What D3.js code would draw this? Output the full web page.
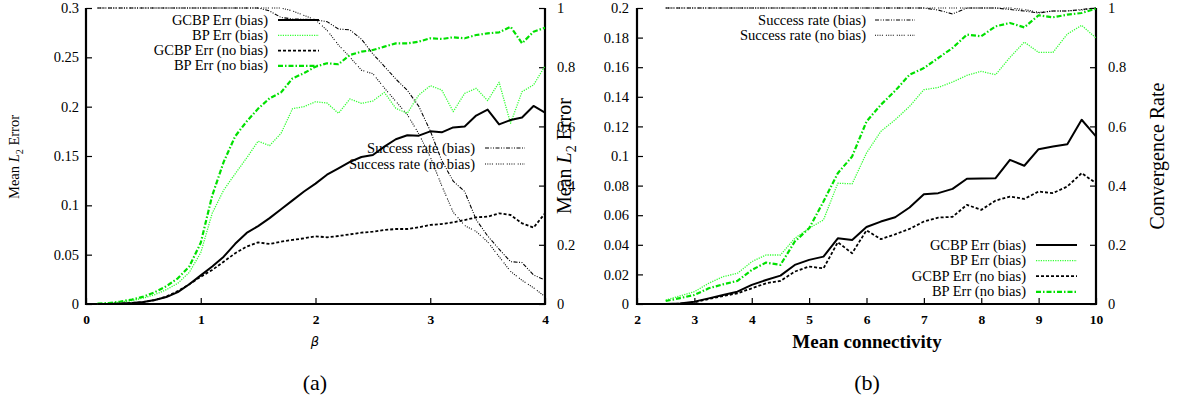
<!DOCTYPE html>
<html><head><meta charset="utf-8">
<script src="https://cdn.jsdelivr.net/npm/d3@7"></script>
<style>body{margin:0;background:#fff}svg{display:block}</style>
</head><body>
<svg id="c" width="1179" height="402"></svg>
<script>
// ---------- Panel (a) data : x = beta ----------
const betaX = [0.1,0.2,0.3,0.4,0.5,0.6,0.7,0.8,0.9,1.0,1.1,1.2,1.3,1.4,1.5,1.6,1.7,1.8,1.9,2.0,2.1,2.2,2.3,2.4,2.5,2.6,2.7,2.8,2.9,3.0,3.1,3.2,3.3,3.4,3.5,3.6,3.7,3.8,3.9,4.0];
const gcbpBiasA = [0,0.0001,0.0004,0.001,0.002,0.004,0.007,0.012,0.02,0.029,0.038,0.048,0.061,0.072,0.079,0.087,0.096,0.105,0.114,0.122,0.131,0.1375,0.144,0.149,0.151,0.1595,0.167,0.171,0.1706,0.175,0.174,0.179,0.18,0.191,0.197,0.182,0.1865,0.189,0.2007,0.194];
const bpBiasA = [0.0002,0.0008,0.002,0.0035,0.006,0.0095,0.0145,0.021,0.032,0.052,0.092,0.1155,0.132,0.148,0.165,0.1605,0.173,0.198,0.2,0.205,0.2037,0.1933,0.2078,0.2034,0.2057,0.2145,0.1983,0.1933,0.2118,0.2213,0.2169,0.195,0.2135,0.2186,0.2061,0.2247,0.1831,0.2152,0.222,0.2412];
const gcbpNoBiasA = [0,0.0001,0.0004,0.001,0.002,0.004,0.0075,0.013,0.02,0.0277,0.0345,0.0429,0.0514,0.0581,0.0625,0.0608,0.0632,0.0649,0.0666,0.0686,0.0676,0.0689,0.0706,0.0723,0.0733,0.075,0.076,0.076,0.0777,0.0801,0.0811,0.0828,0.0851,0.0878,0.0885,0.0919,0.0902,0.0818,0.0774,0.0919];
const bpNoBiasA = [0.0003,0.001,0.0025,0.0045,0.0075,0.012,0.018,0.026,0.038,0.062,0.11,0.144,0.17,0.185,0.198,0.2085,0.2145,0.2287,0.234,0.2405,0.244,0.243,0.2524,0.2557,0.2574,0.2608,0.2642,0.2642,0.2659,0.2693,0.2686,0.2703,0.2693,0.2726,0.2743,0.2753,0.281,0.2642,0.276,0.28];
const successBiasA = [1,1,1,1,1,1,1,1,1,1,1,1,1,1,1,0.99,0.968,0.963,0.962,0.96,0.954,0.929,0.926,0.895,0.845,0.803,0.76,0.722,0.668,0.585,0.485,0.415,0.38,0.285,0.23,0.185,0.143,0.14,0.098,0.081];
const successNoBiasA = [1,1,1,1,1,1,1,1,1,1,1,1,1,1,1,1,1,0.99,0.975,0.96,0.925,0.875,0.834,0.79,0.778,0.73,0.685,0.64,0.575,0.497,0.40,0.31,0.265,0.245,0.21,0.16,0.11,0.08,0.055,0.025];

// ---------- Panel (b) data : x = mean connectivity ----------
const connX = [2.5,2.75,3.0,3.25,3.5,3.75,4.0,4.25,4.5,4.75,5.0,5.25,5.5,5.75,6.0,6.25,6.5,6.75,7.0,7.25,7.5,7.75,8.0,8.25,8.5,8.75,9.0,9.25,9.5,9.75,10.0];
const gcbpBiasB = [0,0.0003,0.0016,0.0038,0.0061,0.0083,0.0129,0.0162,0.0192,0.0264,0.0298,0.032,0.0444,0.0433,0.052,0.0557,0.0586,0.0652,0.0742,0.0749,0.0778,0.0846,0.0848,0.085,0.0974,0.0934,0.1046,0.1064,0.108,0.1245,0.1132];
const bpBiasB = [0.0027,0.0055,0.0083,0.014,0.0185,0.0207,0.0286,0.0331,0.0331,0.0444,0.0512,0.0568,0.0816,0.0812,0.102,0.1166,0.1245,0.1335,0.1448,0.1463,0.15,0.1545,0.1572,0.1549,0.1666,0.177,0.17,0.17,0.1824,0.1883,0.1797];
const gcbpNoBiasB = [0,0.0002,0.0011,0.0034,0.0054,0.0072,0.0106,0.014,0.0156,0.0219,0.0253,0.0241,0.0417,0.0343,0.0498,0.0438,0.0471,0.0507,0.0557,0.0584,0.0589,0.067,0.0636,0.0699,0.0726,0.071,0.076,0.0749,0.0794,0.0884,0.0816];
const bpNoBiasB = [0.002,0.004,0.0061,0.0106,0.0133,0.0156,0.023,0.028,0.0264,0.0422,0.0512,0.0692,0.0884,0.0997,0.1233,0.1346,0.1441,0.1549,0.1594,0.1662,0.173,0.182,0.1809,0.1876,0.1899,0.1869,0.1951,0.1937,0.1955,0.1966,0.1996];
const successBiasB = [1,1,1,1,1,1,1,1,1,1,1,1,1,1,1,1,1,1,1,0.993,0.98,1,1,1,0.995,0.99,0.983,0.99,0.99,0.995,1];
const successNoBiasB = [1,1,1,1,1,1,1,1,1,1,1,1,1,1,1,1,1,1,1,1,1,1,1,1,1,0.995,0.985,0.99,0.99,0.993,1];

// ---------- tick labels ----------
const yTicksA = [0,0.05,0.1,0.15,0.2,0.25,0.3];
const xTicksA = [0,1,2,3,4];
const yTicksB = [0,0.02,0.04,0.06,0.08,0.1,0.12,0.14,0.16,0.18,0.2];
const xTicksB = [2,3,4,5,6,7,8,9,10];
const y2Ticks = [0,0.2,0.4,0.6,0.8,1];

const FONT = "'Liberation Serif','Times New Roman',serif";
const svg = d3.select("#c");
svg.append("rect").attr("width",1179).attr("height",402).attr("fill","#fff");

const STYLES = {
  gcbpBias:   {stroke:"#000", w:2,   dash:null},
  bpBias:     {stroke:"#33ff33", w:1.3, dash:"1.2,1.2"},
  gcbpNoBias: {stroke:"#000", w:1.8, dash:"3,2"},
  bpNoBias:   {stroke:"#00e000", w:2.2, dash:"5,2,1.5,2"},
  succBias:   {stroke:"#000", w:1.1, dash:"4,1.5,1,1.5,1,1.5"},
  succNoBias: {stroke:"#000", w:1.1, dash:"1,1.3,1,1.3,1,1.3,1,3"}
};

function fmt(d){ return String(+d.toFixed(3)); }

function drawPanel(p){
  const g = svg.append("g");
  const x = d3.scaleLinear().domain(p.xDom).range([p.x0,p.x1]);
  const y = d3.scaleLinear().domain(p.yDom).range([304,8]);
  const y2 = d3.scaleLinear().domain([0,1]).range([304,8]);

  // axes
  const ax = g.append("g").attr("transform",`translate(0,304)`)
    .call(d3.axisBottom(x).tickValues(p.xTicks).tickFormat(fmt).tickSizeInner(-6).tickSizeOuter(0).tickPadding(10));
  const ay = g.append("g").attr("transform",`translate(${p.x0},0)`)
    .call(d3.axisLeft(y).tickValues(p.yTicks).tickFormat(fmt).tickSizeInner(-6).tickSizeOuter(0).tickPadding(p.yPad));
  const ay2 = g.append("g").attr("transform",`translate(${p.x1},0)`)
    .call(d3.axisRight(y2).tickValues(y2Ticks).tickFormat(fmt).tickSizeInner(-6).tickSizeOuter(0).tickPadding(12));
  [ax,ay,ay2].forEach(a=>{
    a.select(".domain").remove();
    a.selectAll("line").attr("stroke","#000").attr("stroke-width",1.2);
    a.selectAll("text").attr("font-family",FONT).attr("fill","#000");
  });
  ax.selectAll("text").attr("font-size",13.5).attr("font-weight","bold");
  ay.selectAll("text").attr("font-size",14.5);
  ay2.selectAll("text").attr("font-size",14.5);

  // frame
  g.append("path").attr("d",`M${p.x0},8V304H${p.x1}V8`).attr("fill","none")
    .attr("stroke","#000").attr("stroke-width",2.2);

  // series
  const clipId = "clip"+p.id;
  svg.append("clipPath").attr("id",clipId).append("rect")
    .attr("x",p.x0).attr("y",6).attr("width",p.x1-p.x0).attr("height",300);
  const lg = g.append("g").attr("clip-path",`url(#${clipId})`);
  p.series.forEach(s=>{
    const sc = s.axis2 ? y2 : y;
    const line = d3.line().x((d,i)=>x(p.xs[i])).y(d=>sc(d));
    const st = STYLES[s.style];
    lg.append("path").attr("d",line(s.values)).attr("fill","none")
      .attr("stroke",st.stroke).attr("stroke-width",st.w)
      .attr("stroke-dasharray",st.dash).attr("stroke-linejoin","round");
  });

  // legends
  p.legends.forEach(L=>{
    L.items.forEach((it,i)=>{
      const yy = L.y + i*L.dy;
      g.append("text").attr("x",L.textX).attr("y",yy+4.5).attr("text-anchor","end")
        .attr("font-family",FONT).attr("font-size",14.5).attr("fill","#000").text(it.label);
      const st = STYLES[it.style];
      g.append("line").attr("x1",L.lx0).attr("x2",L.lx1).attr("y1",yy).attr("y2",yy)
        .attr("stroke",st.stroke).attr("stroke-width",st.w).attr("stroke-dasharray",st.dash);
    });
  });
}

drawPanel({
  id:"a", xDom:[0,4], yDom:[0,0.3], x0:86, x1:545, xTicks:xTicksA, yTicks:yTicksA, yPad:7, xs:betaX,
  series:[
    {values:successBiasA, style:"succBias", axis2:true},
    {values:successNoBiasA, style:"succNoBias", axis2:true},
    {values:bpBiasA, style:"bpBias"},
    {values:bpNoBiasA, style:"bpNoBias"},
    {values:gcbpNoBiasA, style:"gcbpNoBias"},
    {values:gcbpBiasA, style:"gcbpBias"}
  ],
  legends:[
    {textX:268, lx0:278, lx1:319, y:20, dy:15.3, items:[
      {label:"GCBP Err (bias)", style:"gcbpBias"},
      {label:"BP Err (bias)", style:"bpBias"},
      {label:"GCBP Err (no bias)", style:"gcbpNoBias"},
      {label:"BP Err (no bias)", style:"bpNoBias"}]},
    {textX:475, lx0:485, lx1:525, y:148, dy:16, items:[
      {label:"Success rate (bias)", style:"succBias"},
      {label:"Success rate (no bias)", style:"succNoBias"}]}
  ]
});

drawPanel({
  id:"b", xDom:[2,10], yDom:[0,0.2], x0:637, x1:1096, xTicks:xTicksB, yTicks:yTicksB, yPad:8, xs:connX,
  series:[
    {values:successBiasB, style:"succBias", axis2:true},
    {values:successNoBiasB, style:"succNoBias", axis2:true},
    {values:bpBiasB, style:"bpBias"},
    {values:bpNoBiasB, style:"bpNoBias"},
    {values:gcbpNoBiasB, style:"gcbpNoBias"},
    {values:gcbpBiasB, style:"gcbpBias"}
  ],
  legends:[
    {textX:866, lx0:875, lx1:915, y:20, dy:15.3, items:[
      {label:"Success rate (bias)", style:"succBias"},
      {label:"Success rate (no bias)", style:"succNoBias"}]},
    {textX:1026, lx0:1036, lx1:1077, y:245, dy:15.6, items:[
      {label:"GCBP Err (bias)", style:"gcbpBias"},
      {label:"BP Err (bias)", style:"bpBias"},
      {label:"GCBP Err (no bias)", style:"gcbpNoBias"},
      {label:"BP Err (no bias)", style:"bpNoBias"}]}
  ]
});

// axis titles
function meanL2(x, yc, size){
  const t = svg.append("text").attr("transform",`translate(${x},${yc}) rotate(-90)`)
    .attr("text-anchor","middle").attr("font-family",FONT).attr("font-size",size).attr("fill","#000");
  t.append("tspan").text("Mean ");
  t.append("tspan").attr("font-style","italic").text("L");
  t.append("tspan").attr("font-size",size*0.7).attr("dy",size*0.25).text("2");
  t.append("tspan").attr("dy",-size*0.25).text(" Error");
}
meanL2(19, 157, 14.5);
meanL2(571, 156, 20);
svg.append("text").attr("transform","translate(1164,156) rotate(-90)").attr("text-anchor","middle")
  .attr("font-family",FONT).attr("font-size",20).attr("fill","#000").text("Convergence Rate");
svg.append("text").attr("x",315).attr("y",346).attr("text-anchor","middle")
  .attr("font-family","'DejaVu Sans',sans-serif").attr("font-style","italic").attr("font-size",13).attr("fill","#000").text("β");
svg.append("text").attr("x",867).attr("y",348).attr("text-anchor","middle")
  .attr("font-family",FONT).attr("font-weight","bold").attr("font-size",19).attr("fill","#000").text("Mean connectivity");
svg.append("text").attr("x",315).attr("y",390).attr("text-anchor","middle")
  .attr("font-family",FONT).attr("font-size",22).attr("fill","#000").text("(a)");
svg.append("text").attr("x",867).attr("y",390).attr("text-anchor","middle")
  .attr("font-family",FONT).attr("font-size",22).attr("fill","#000").text("(b)");
</script>
</body></html>
